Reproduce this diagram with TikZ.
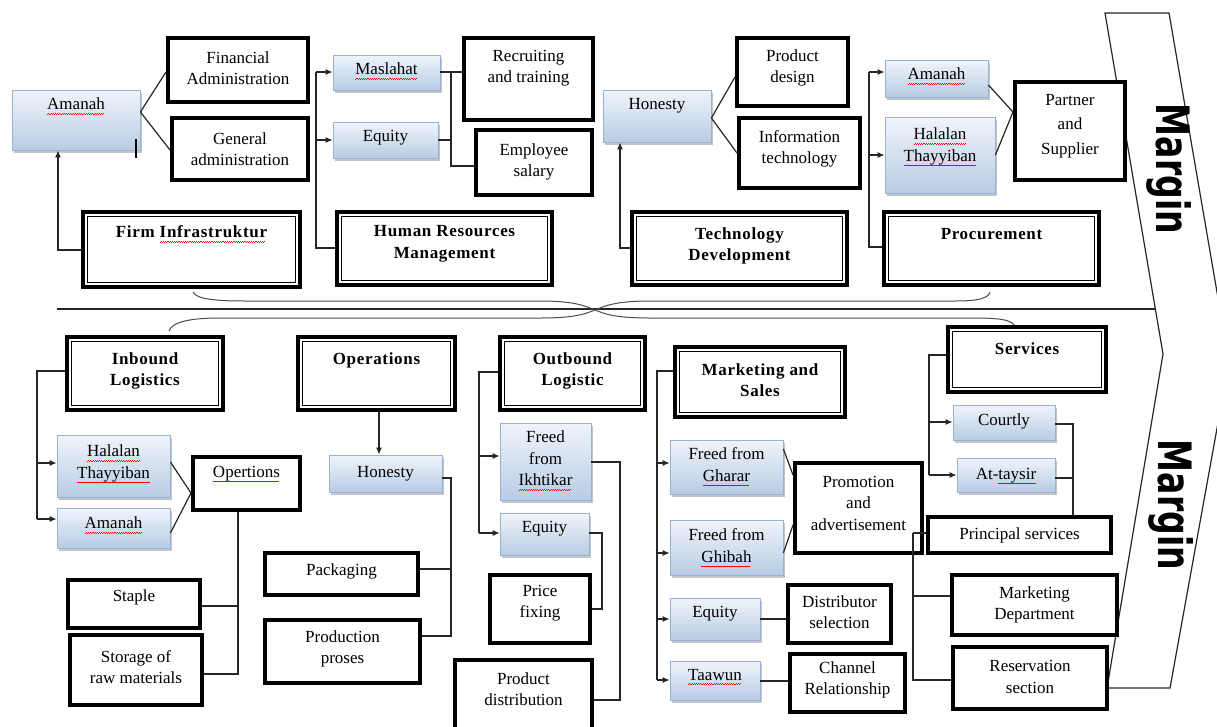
\documentclass[tikz,border=0pt]{standalone}
\usepackage{fontspec}
\setmainfont{Liberation Serif}
\newfontfamily\mfont{DejaVu Sans}
\usepackage{graphicx}
\usetikzlibrary{fit,shadows,arrows.meta}
\definecolor{btop}{RGB}{240,244,250}
\definecolor{bbot}{RGB}{184,204,228}
\definecolor{bedge}{RGB}{149,179,215}
\newcommand\fs{\fontsize{17}{21.5}\selectfont}
\newcommand\bfs{\fontsize{17}{21.5}\selectfont\bfseries\addfontfeatures{LetterSpace=4}}
\newcommand\sq[1]{\leavevmode\setbox0\hbox{#1}\rlap{\hbox to \wd0{\color{red}\leaders\hbox{\rule[-5pt]{1.1pt}{0.8pt}\rule[-4.2pt]{1.1pt}{0.8pt}}\hfill}}\box0}
\newcommand\bx[9]{\node[#1, fit={(#4,#5) (#6,#7)}] (#3) {}; \node[#2] (#3t) at ({(#4+#6)/2},#8) {#9};}
\begin{document}
\begin{tikzpicture}[x=1pt,y=-1pt,
  txt/.style={font=\fs, align=center, inner sep=0pt},
  btxt/.style={font=\bfs, align=center, inner sep=0pt},
  blue/.style={draw=bedge, line width=0.8pt, top color=btop, bottom color=bbot, inner sep=0pt,
     drop shadow={shadow xshift=2pt, shadow yshift=-3pt, fill=black!50, opacity=0.45}},
  tb/.style={draw=black, line width=4pt, fill=white, inner sep=0pt},
  db/.style={draw=black, line width=4pt, fill=white, inner sep=0pt},
  ln/.style={draw=black!85, line width=1.2pt},
  ar/.style={ln, -{Latex[length=7pt,width=6pt]}},
  brace/.style={draw=black!70, line width=1pt},
  chev/.style={draw=black!85, line width=1.2pt, fill=white},
  mtxt/.style={font=\mfont\bfseries\fontsize{46}{50}\selectfont, rotate=-90, inner sep=0pt}
]
\fill[white] (0,0) rectangle (1217,726);
\useasboundingbox (0,0) rectangle (1217,726);

% chevron and divider
\draw[chev] (1105,13) -- (1169,13) -- (1229,362) -- (1170,688) -- (1107,688) -- (1163,354) -- cycle;
\node[mtxt] (m1) at (1169,169) {\scalebox{0.72}[1]{Margin}};
\node[mtxt] (m2) at (1171,505) {\scalebox{0.72}[1]{Margin}};
\draw[ln] (57,309) -- (1155,309);

% braces
\draw[brace] (193,292) .. controls (196,299) and (215,301) .. (245,301) -- (540,301)
  .. controls (575,301) and (585,306) .. (595,310) .. controls (605,314) and (615,318) .. (650,318)
  -- (975,318) .. controls (1005,318) and (1013,321) .. (1015,327);
\draw[brace] (169,331) .. controls (172,322) and (190,318) .. (220,318) -- (540,318)
  .. controls (575,318) and (585,314) .. (595,310) .. controls (605,306) and (615,301) .. (650,301)
  -- (955,301) .. controls (980,301) and (988,298) .. (990,292);

% ---------- top section ----------
\bx{blue}{txt}{am1}{12}{90}{140}{150}{106}{\sq{Amanah}}
\bx{tb}{txt}{fin}{168}{38}{308}{102}{68}{Financial\\Administration}
\bx{tb}{txt}{gen}{172}{118}{308}{180}{149}{General\\administration}
\bx{db}{btxt}{firm}{83}{212}{300}{287}{234}{Firm \sq{Infrastruktur}}
\bx{blue}{txt}{masl}{333}{55}{440}{90}{71}{\sq{Maslahat}}
\bx{blue}{txt}{eqa}{333}{122}{438}{158}{138}{Equity}
\bx{tb}{txt}{recr}{464}{38}{593}{120}{68}{Recruiting\\and training}
\bx{tb}{txt}{emp}{476}{130}{592}{195}{162}{Employee\\salary}
\bx{db}{btxt}{hrm}{337}{212}{552}{285}{244}{Human Resources\\Management}
\bx{blue}{txt}{hona}{603}{90}{711}{142}{106}{Honesty}
\bx{tb}{txt}{pdes}{737}{38}{848}{106}{68}{Product\\design}
\bx{tb}{txt}{itec}{739}{118}{860}{188}{149}{Information\\technology}
\bx{db}{btxt}{tech}{632}{212}{847}{285}{246}{Technology\\Development}
\bx{blue}{txt}{amb}{885}{60}{988}{97}{76}{\sq{Amanah}}
\bx{blue}{txt}{hta}{885}{117}{995}{193}{147}{\sq{Halalan}\\\sq{Thayyiban}}
\bx{tb}{txt}{part}{1015}{82}{1125}{180}{126}{Partner\\[3pt]and\\[3pt]Supplier}
\bx{db}{btxt}{proc}{884}{212}{1099}{285}{234}{Procurement}

% ---------- bottom section ----------
\bx{db}{btxt}{inb}{67}{337}{223}{410}{371}{Inbound\\Logistics}
\bx{blue}{txt}{htb}{57}{435}{170}{497}{464}{\sq{Halalan}\\\sq{Thayyiban}}
\bx{blue}{txt}{amc}{57}{508}{170}{548}{525}{\sq{Amanah}}
\bx{tb}{txt}{opt}{193}{457}{300}{510}{474}{\sq{Opertions}}
\bx{tb}{txt}{stap}{68}{580}{200}{628}{597}{Staple}
\bx{tb}{txt}{stor}{70}{635}{202}{705}{667}{Storage of\\raw materials}
\bx{db}{btxt}{ops}{298}{337}{455}{410}{360}{Operations}
\bx{blue}{txt}{honb}{329}{455}{442}{492}{474}{Honesty}
\bx{tb}{txt}{pack}{265}{553}{418}{595}{571}{Packaging}
\bx{tb}{txt}{prod}{265}{620}{420}{683}{649}{Production\\proses}
\bx{db}{btxt}{outb}{500}{337}{645}{410}{371}{Outbound\\Logistic}
\bx{blue}{txt}{ikh}{500}{423}{591}{500}{461}{Freed\\from\\\sq{Ikhtikar}}
\bx{blue}{txt}{eqb}{500}{513}{589}{555}{529}{Equity}
\bx{tb}{txt}{price}{490}{575}{590}{643}{603}{Price\\fixing}
\bx{tb}{txt}{dist}{455}{660}{592}{732}{689}{Product\\distribution}
\bx{db}{btxt}{mkt}{675}{347}{845}{417}{380}{Marketing and\\Sales}
\bx{blue}{txt}{gha}{670}{440}{783}{494}{467}{Freed from\\\sq{Gharar}}
\bx{blue}{txt}{ghi}{670}{520}{783}{575}{548}{Freed from\\\sq{Ghibah}}
\bx{blue}{txt}{eqc}{670}{598}{760}{640}{614}{Equity}
\bx{blue}{txt}{taa}{670}{661}{760}{700}{677}{\sq{Taawun}}
\bx{tb}{txt}{promo}{795}{463}{922}{553}{503}{Promotion\\and\\advertisement}
\bx{tb}{txt}{dsel}{788}{585}{891}{643}{612}{Distributor\\selection}
\bx{tb}{txt}{chan}{790}{654}{905}{712}{680}{Channel\\Relationship}
\bx{db}{btxt}{serv}{948}{327}{1106}{392}{349}{Services}
\bx{blue}{txt}{court}{953}{405}{1055}{440}{421}{Courtly}
\bx{blue}{txt}{tays}{957}{458}{1055}{492}{476}{At-\sq{taysir}}
\bx{tb}{txt}{princ}{928}{517}{1111}{553}{535}{Principal services}
\bx{tb}{txt}{mdep}{952}{575}{1117}{635}{605}{Marketing\\Department}
\bx{tb}{txt}{resv}{953}{647}{1107}{709}{677}{Reservation\\section}

% inner thin line of the double boxes
\foreach \n in {firm,hrm,tech,proc,inb,ops,outb,mkt,serv}
  \draw[line width=1.1pt] ([shift={(6.3,6.3)}]\n.north west) rectangle ([shift={(-6.3,-6.3)}]\n.south east);

% cursor mark
\draw[line width=2pt] (136,139) -- (136,158);

% ---------- connectors top ----------
\draw[ln] (am1.east |- 0,112) -- (fin.west |- 0,72);
\draw[ln] (am1.east |- 0,112) -- (gen.west |- 0,150);
\draw[ar] (firm.west |- 0,250) -| (am1.south -| 58,0);
\coordinate (jh1) at (316,72);
\coordinate (jh2) at (316,140);
\draw[ln] (hrm.west |- 0,248) -| (jh1);
\draw[ar] (jh1) -- (masl.west |- jh1);
\draw[ar] (jh2) -- (eqa.west |- jh2);
\coordinate (js1) at (451,72);
\coordinate (js2) at (451,140);
\draw[ln] (masl.east |- js1) -- (recr.west |- js1);
\draw[ln] (js1) |- (emp.west |- 0,166);
\draw[ln] (eqa.east |- js2) -- (js2);
\draw[ln] (hona.east |- 0,118) -- (pdes.west |- 0,77);
\draw[ln] (hona.east |- 0,118) -- (itec.west |- 0,153);
\draw[ar] (tech.west |- 0,248) -| (hona.south -| 620,0);
\coordinate (jp1) at (869,72);
\coordinate (jp2) at (869,155);
\draw[ln] (proc.west |- 0,247) -| (jp1);
\draw[ar] (jp1) -- (amb.west |- jp1);
\draw[ar] (jp2) -- (hta.west |- jp2);
\draw[ln] (amb.east |- 0,85) -- (part.west |- 0,112);
\draw[ln] (hta.east |- 0,155) -- (part.west |- 0,112);

% ---------- connectors bottom ----------
\coordinate (ji1) at (37,463);
\coordinate (ji2) at (37,519);
\draw[ln] (inb.west |- 0,371) -| (ji2);
\draw[ar] (ji1) -- (htb.west |- ji1);
\draw[ar] (ji2) -- (amc.west |- ji2);
\draw[ln] (htb.east |- 0,462) -- (opt.west |- 0,493);
\draw[ln] (amc.east |- 0,533) -- (opt.west |- 0,493);
\coordinate (jo1) at (238,606);
\draw[ln] (opt.south -| jo1) |- (stor.east |- 0,674);
\draw[ln] (jo1) -- (stap.east |- jo1);
\draw[ar] (ops.south -| 379,0) -- (honb.north -| 379,0);
\coordinate (jn1) at (451,569);
\draw[ln] (honb.east |- 0,478) -| (451,636) -- (prod.east |- 0,636);
\draw[ln] (jn1) -- (pack.east |- jn1);
\coordinate (jl1) at (479,456);
\coordinate (jl2) at (479,533);
\draw[ln] (outb.west |- 0,372) -| (jl2);
\draw[ar] (jl1) -- (ikh.west |- jl1);
\draw[ar] (jl2) -- (eqb.west |- jl2);
\draw[ln] (ikh.east |- 0,462) -| (620,700) -- (dist.east |- 0,700);
\draw[ln] (eqb.east |- 0,533) -| (602,609) -- (price.east |- 0,609);
\coordinate (jm1) at (657,463);
\coordinate (jm2) at (657,553);
\coordinate (jm3) at (657,619);
\coordinate (jm4) at (657,680);
\draw[ln] (mkt.west |- 0,371) -| (jm4);
\draw[ar] (jm1) -- (gha.west |- jm1);
\draw[ar] (jm2) -- (ghi.west |- jm2);
\draw[ar] (jm3) -- (eqc.west |- jm3);
\draw[ar] (jm4) -- (taa.west |- jm4);
\draw[ln] (gha.east |- 0,449) -- (promo.west |- 0,475);
\draw[ln] (ghi.east |- 0,553) -- (promo.west |- 0,525);
\draw[ln] (eqc.east |- 0,619) -- (dsel.west |- 0,619);
\draw[ln] (taa.east |- 0,681) -- (chan.west |- 0,681);
\coordinate (jv1) at (929,422);
\coordinate (jv2) at (929,475);
\draw[ln] (serv.west |- 0,355) -| (jv2);
\draw[ar] (jv1) -- (court.west |- jv1);
\draw[ar] (jv2) -- (tays.west |- jv2);
\draw[ln] (court.east |- 0,424) -| (princ.north -| 1073,0);
\draw[ln] (tays.east |- 0,478) -- (1073,478);
\coordinate (jq) at (913,533);
\draw[ln] (jq) -- (princ.west |- jq);
\draw[ln] (jq) |- (mdep.west |- 0,596);
\draw[ln] (jq) |- (resv.west |- 0,680);
\end{tikzpicture}
\end{document}
